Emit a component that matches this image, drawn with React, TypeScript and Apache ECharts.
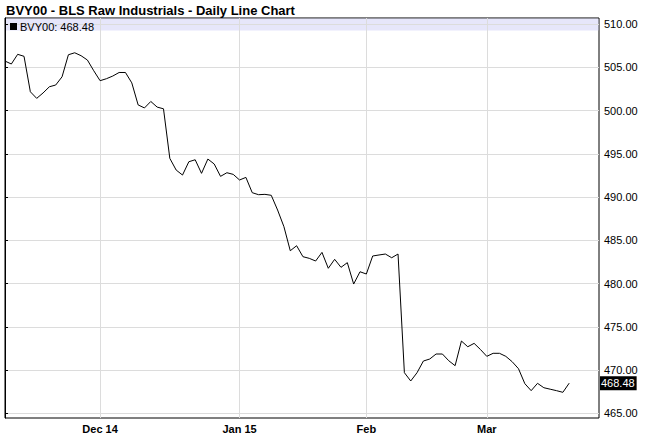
import React, { useEffect, useRef } from "react";
import * as echarts from "echarts";

const chartTitle = "BVY00 - BLS Raw Industrials - Daily Line Chart";
const seriesName = "BVY00";
const startDate = "2014-11-07";
const holidays = ["2014-11-27", "2014-12-25", "2015-01-01", "2015-01-19", "2015-02-16"];
const monthLabels = ["Dec 14", "Jan 15", "Feb", "Mar"];
const yTicks = [465, 470, 475, 480, 485, 490, 495, 500, 505, 510];

// daily closes, Nov 7 2014 -> Mar 19 2015
const values = [
  505.72, 505.38, 506.5, 506.27, 502.17, 501.41, 502.03, 502.75, 502.95, 503.9,
  506.45, 506.68, 506.34, 505.84, 504.6, 503.45, 503.68, 503.99, 504.4, 504.4,
  503.2, 500.65, 500.3, 501.05, 500.4, 500.2, 494.47, 493.12, 492.54, 494.08,
  494.31, 492.74, 494.39, 493.82, 492.39, 492.81, 492.62, 491.97, 492.27, 490.5,
  490.27, 490.31, 490.2, 488.5, 486.57, 483.79, 484.37, 483.1, 482.91, 482.6,
  483.6, 481.76, 482.8, 481.87, 482.41, 479.94, 481.36, 481.1, 483.18, 483.3,
  483.41, 482.98, 483.41, 469.69, 468.73, 469.69, 471.04, 471.27, 471.85, 471.85,
  471.07, 470.5, 473.35, 472.69, 473.08, 472.37, 471.58, 471.93, 471.93, 471.58,
  470.96, 470.15, 468.42, 467.61, 468.46, 467.95, 467.78, 467.61, 467.42, 468.48,
];

const tradingDays = (start: string, count: number) => {
  const out: string[] = [];
  const d = new Date(start + "T00:00:00Z");
  while (out.length < count) {
    const iso = d.toISOString().slice(0, 10);
    const wd = d.getUTCDay();
    if (wd !== 0 && wd !== 6 && holidays.indexOf(iso) < 0) out.push(iso);
    d.setUTCDate(d.getUTCDate() + 1);
  }
  return out;
};

const App = () => {
  const chart = useRef<HTMLDivElement>(null);

  useEffect(() => {
    if (!chart.current) return;
    const myChart = echarts.init(chart.current, undefined, { renderer: "svg" });
    const dates = tradingDays(startDate, values.length);
    const monthStarts = dates
      .map((d, i) => (i > 0 && d.slice(5, 7) !== dates[i - 1].slice(5, 7) ? i : -1))
      .filter((i) => i >= 0);
    const last = values[values.length - 1];

    const option = {
      animation: false,
      textStyle: { fontFamily: "'Liberation Sans', Arial, sans-serif" },
      title: {
        text: chartTitle,
        left: 6,
        top: 4,
        padding: 0,
        textStyle: { fontSize: 13, fontWeight: "bold", color: "#000" },
      },
      legend: {
        data: [seriesName],
        left: 10,
        top: 21,
        padding: 0,
        icon: "rect",
        itemWidth: 7,
        itemHeight: 7,
        itemGap: 4,
        selectedMode: false,
        formatter: (n: string) => `${n}: ${last.toFixed(2)}`,
        textStyle: { fontSize: 11, color: "#000", padding: [0, 0, 0, -2] },
      },
      graphic: [
        {
          type: "rect",
          silent: true,
          shape: { x: 5.5, y: 18.5, width: 593, height: 12 },
          style: { fill: "rgba(210,210,246,0.55)" },
        },
      ],
      grid: {
        left: 5,
        right: 53,
        top: 18,
        bottom: 17,
        show: true,
        borderColor: "#000",
        borderWidth: 1,
        backgroundColor: "#fff",
      },
      xAxis: {
        type: "value",
        min: 0,
        max: values.length - 1 + 4.7,
        axisLine: { show: false },
        axisTick: { show: false, customValues: monthStarts },
        axisLabel: {
          customValues: monthStarts,
          formatter: (v: number) => monthLabels[monthStarts.indexOf(v)] || "",
          fontSize: 11,
          fontWeight: "bold",
          color: "#000",
          margin: 5,
        },
        splitLine: { show: true, lineStyle: { color: "#dcdcdc", width: 1 } },
      },
      yAxis: {
        type: "value",
        position: "right",
        min: 464.45,
        max: 510.7,
        axisLine: { show: true, lineStyle: { color: "#000", width: 1 } },
        axisTick: { show: true, length: 3, customValues: yTicks, lineStyle: { color: "#000" } },
        axisLabel: {
          customValues: yTicks,
          formatter: (v: number) => v.toFixed(2),
          fontSize: 11,
          color: "#000",
          margin: 5,
        },
        splitLine: { show: true, lineStyle: { color: "#dcdcdc", width: 1 } },
      },
      series: [
        {
          name: seriesName,
          type: "line",
          data: values.map((v, i) => [i, v]),
          symbol: "none",
          showSymbol: false,
          lineStyle: { color: "#000", width: 1 },
          itemStyle: { color: "#000" },
          markLine: {
            silent: true,
            symbol: "none",
            lineStyle: { color: "rgba(0,0,0,0)", width: 0 },
            data: [{ yAxis: last }],
            label: {
              show: true,
              position: "end",
              distance: 1,
              formatter: () => last.toFixed(2),
              backgroundColor: "#000",
              color: "#fff",
              fontSize: 11,
              padding: [2, 2, 1, 1],
            },
          },
        },
      ],
    };
    myChart.setOption(option as any);
    return () => {
      myChart.dispose();
    };
  }, []);

  return (
    <div
      ref={chart}
      style={{ position: "absolute", left: 0, top: 0, width: 652, height: 435, background: "#fff" }}
    ></div>
  );
};

export default App;
